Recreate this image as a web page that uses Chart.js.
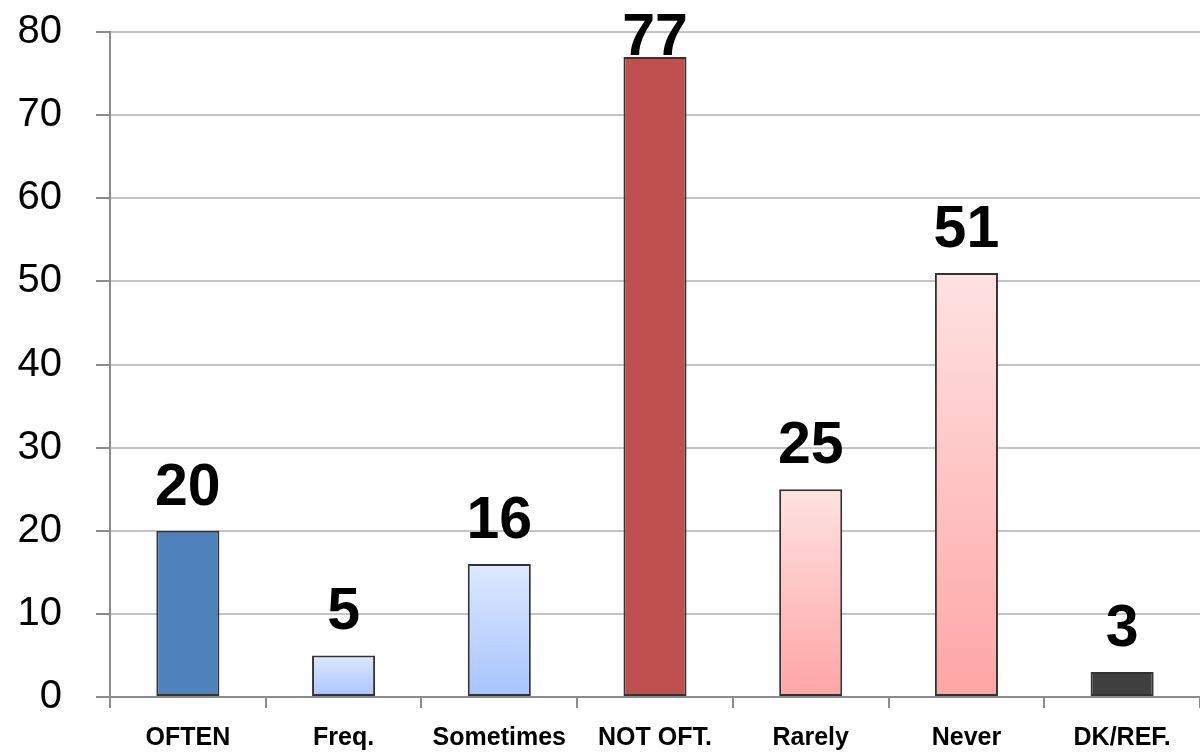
<!DOCTYPE html>
<html>
<head>
<meta charset="utf-8">
<script src="https://cdn.jsdelivr.net/npm/chart.js@4.4.1/dist/chart.umd.min.js"></script>
<style>
    html, body { margin: 0; padding: 0; background: #ffffff; }
    #wrap { width: 1200px; height: 752px; }
</style>
</head>
<body>
<div id="wrap"><canvas id="bar-chart" width="1200" height="752"></canvas></div>
<script>
// chart data
const categories = ['OFTEN', 'Freq.', 'Sometimes', 'NOT OFT.', 'Rarely', 'Never', 'DK/REF.'];
const values = [20, 5, 16, 77, 25, 51, 3];
const yTicks = [0, 10, 20, 30, 40, 50, 60, 70, 80];

// bar fills: plain colour or [top, bottom] gradient
const fills = [
    '#4F81BD',
    ['#DEE8FF', '#A7C4FF'],
    ['#DEE8FF', '#A7C4FF'],
    '#C0504D',
    ['#FFE2E2', '#FFA5A5'],
    ['#FFE2E2', '#FFA5A5'],
    '#404040',
];

const FONT = '"Liberation Sans", Arial, sans-serif';

// Function to build the fill of each bar (gradient from bar top to axis)
function barFill(context) {
    const fill = fills[context.dataIndex];
    if (!Array.isArray(fill)) return fill;
    const chart = context.chart;
    const yScale = chart.scales.y;
    if (!yScale) return fill[1];
    const top = yScale.getPixelForValue(values[context.dataIndex]);
    const bottom = yScale.getPixelForValue(0);
    const grad = chart.ctx.createLinearGradient(0, top, 0, bottom);
    grad.addColorStop(0, fill[0]);
    grad.addColorStop(1, fill[1]);
    return grad;
}

// plugin to write the value above each bar
const valueLabels = {
    id: 'valueLabels',
    afterDatasetsDraw(chart) {
        const { ctx, chartArea } = chart;
        const meta = chart.getDatasetMeta(0);
        ctx.save();
        ctx.font = 'bold 59px ' + FONT;
        ctx.fillStyle = '#000000';
        ctx.textAlign = 'center';
        ctx.textBaseline = 'alphabetic';
        meta.data.forEach((bar, i) => {
            const y = Math.max(bar.y - 26, chartArea.top + 23);
            ctx.fillText(String(values[i]), bar.x, y);
        });
        ctx.restore();
    }
};

const chart = new Chart(document.getElementById('bar-chart').getContext('2d'), {
    type: 'bar',
    data: {
        labels: categories,
        datasets: [{
            data: values,
            backgroundColor: barFill,
            borderColor: '#333333',
            borderWidth: 2,
            borderSkipped: false,
            barPercentage: 0.405,
            categoryPercentage: 1,
        }],
    },
    options: {
        responsive: false,
        animation: false,
        devicePixelRatio: 1,
        layout: {
            padding: { top: 32, right: 0, bottom: 0, left: 0 },
        },
        plugins: {
            legend: { display: false },
            tooltip: { enabled: false },
        },
        scales: {
            x: {
                grid: {
                    display: true,
                    drawOnChartArea: false,
                    offset: true,
                    tickLength: 11,
                    color: '#8C8C8C',
                    lineWidth: 2,
                },
                border: { color: '#8C8C8C', width: 2 },
                ticks: {
                    color: '#000000',
                    font: { family: FONT, size: 25, weight: 'bold' },
                    padding: 15,
                    maxRotation: 0,
                    autoSkip: false,
                },
                afterFit(scale) {
                    scale.height = 55;
                    scale.paddingLeft = 0;
                    scale.paddingRight = 0;
                },
            },
            y: {
                min: 0,
                max: 80,
                afterBuildTicks(scale) {
                    scale.ticks = yTicks.map(v => ({ value: v }));
                },
                grid: {
                    color: '#C4C4C4',
                    lineWidth: 2,
                    tickLength: 14,
                    tickColor: '#8C8C8C',
                },
                border: { color: '#8C8C8C', width: 2 },
                ticks: {
                    color: '#000000',
                    font: { family: FONT, size: 40 },
                    padding: 34,
                },
                afterFit(scale) {
                    scale.width = 110;
                    scale.paddingTop = 0;
                    scale.paddingBottom = 0;
                },
            },
        },
    },
    plugins: [valueLabels],
});
</script>
</body>
</html>
